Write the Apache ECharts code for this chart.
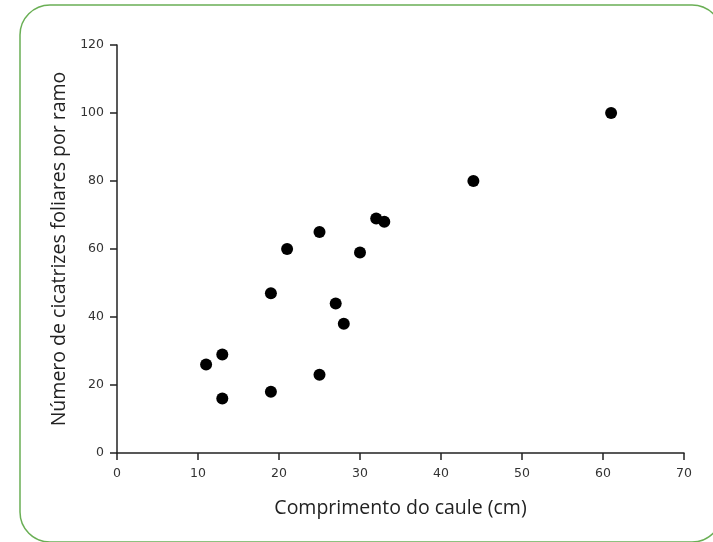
<!DOCTYPE html>
<html>
<head>
<meta charset="utf-8">
<script src="https://cdn.jsdelivr.net/npm/echarts@6/dist/echarts.min.js"></script>
<style>html,body{margin:0;padding:0;background:#fff;}#c{width:713px;height:542px;}</style>
</head>
<body>
<div id="c"></div>
<script>
var xValues = [11, 13, 13, 19, 19, 21, 25, 25, 27, 28, 30, 32, 33, 44, 61];
var yValues = [26, 29, 16, 18, 47, 60, 65, 23, 44, 38, 59, 69, 68, 80, 100];
var xTitle = 'Comprimento do caule (cm)';
var yTitle = 'Número de cicatrizes foliares por ramo';

var points = xValues.map(function (x, i) { return [x, yValues[i]]; });
var chart = echarts.init(document.getElementById('c'), null, {renderer: 'canvas'});
var axisCommon = {
  axisLine: {show: true, lineStyle: {color: '#222', width: 1.5}},
  axisTick: {show: true, inside: false, length: 7, lineStyle: {color: '#222', width: 1.5}},
  splitLine: {show: false},
  axisLabel: {color: '#333', fontFamily: 'DejaVu Sans', fontSize: 12.5},
  nameTextStyle: {color: '#222', fontFamily: 'Open Sans', fontSize: 19.5}
};
chart.setOption({
  animation: false,
  backgroundColor: '#fff',
  graphic: [{
    type: 'rect',
    shape: {x: 20, y: 5, width: 702, height: 537, r: 30},
    style: {fill: 'none', stroke: '#6aaf55', lineWidth: 1.5},
    z: 100
  }],
  grid: {left: 117, right: 29, top: 45, bottom: 89},
  xAxis: Object.assign({}, axisCommon, {
    type: 'value', min: 0, max: 70, interval: 10,
    name: xTitle, nameLocation: 'middle', nameGap: 45,
    axisLabel: Object.assign({}, axisCommon.axisLabel, {margin: 14})
  }),
  yAxis: Object.assign({}, axisCommon, {
    type: 'value', min: 0, max: 120, interval: 20,
    name: yTitle, nameLocation: 'middle', nameGap: 42,
    axisLabel: Object.assign({}, axisCommon.axisLabel, {margin: 13})
  }),
  series: [{
    type: 'scatter',
    data: points,
    symbol: 'circle',
    symbolSize: 12,
    itemStyle: {color: '#000', opacity: 1}
  }]
});
</script>
</body>
</html>
